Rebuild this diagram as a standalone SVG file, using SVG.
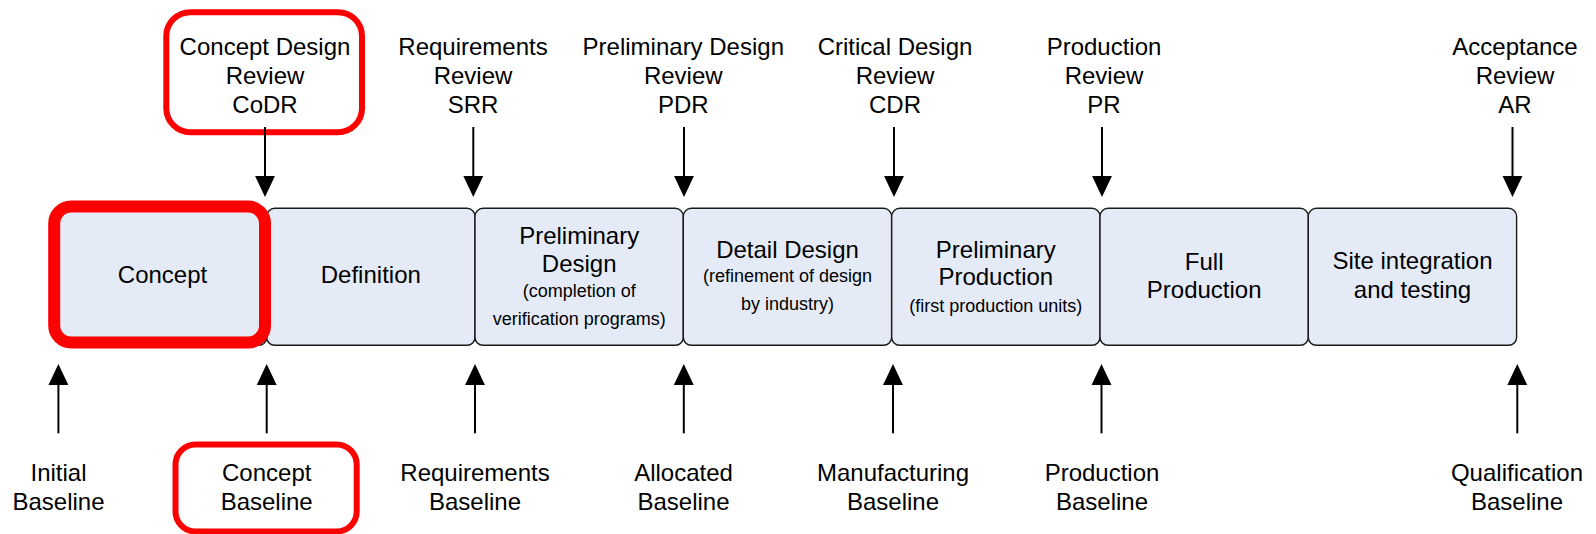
<svg xmlns="http://www.w3.org/2000/svg" width="1596" height="534" viewBox="0 0 1596 534">
<defs>
<marker id="ah" markerUnits="userSpaceOnUse" markerWidth="22" markerHeight="22" viewBox="0 -10 21 20" refX="0.5" refY="0" orient="auto">
<path d="M0,-9.5 L20,0 L0,9.5 Z" fill="#000"/>
</marker>
<style>
.phase{fill:#E5EBF6;stroke:#1a1a1a;stroke-width:1.4}
.hl{fill:none;stroke:#FF0000}
.t{font-family:"Liberation Sans",Arial,sans-serif;font-size:24px;fill:#000;text-anchor:middle}
.s{font-family:"Liberation Sans",Arial,sans-serif;font-size:18px;fill:#000;text-anchor:middle}
.c{stroke:#000;stroke-width:2;fill:none;marker-end:url(#ah)}
</style>
</defs>
<rect width="1596" height="534" fill="#fff"/>

<g id="phase-concept">
<rect class="phase" x="58.4" y="208.3" width="208.3" height="137" rx="8"/>
<text class="t" x="162.5" y="283.3">Concept</text>
</g>
<g id="phase-definition">
<rect class="phase" x="266.7" y="208.3" width="208.3" height="137" rx="8"/>
<text class="t" x="370.8" y="283.3">Definition</text>
</g>
<g id="phase-preliminary-design">
<rect class="phase" x="475" y="208.3" width="208.3" height="137" rx="8"/>
<text class="t" x="579.2" y="244">Preliminary</text>
<text class="t" x="579.2" y="271.7">Design</text>
<text class="s" x="579.2" y="296.7">(completion of</text>
<text class="s" x="579.2" y="325">verification programs)</text>
</g>
<g id="phase-detail-design">
<rect class="phase" x="683.3" y="208.3" width="208.3" height="137" rx="8"/>
<text class="t" x="787.5" y="258.3">Detail Design</text>
<text class="s" x="787.5" y="281.7">(refinement of design</text>
<text class="s" x="787.5" y="310">by industry)</text>
</g>
<g id="phase-preliminary-production">
<rect class="phase" x="891.7" y="208.3" width="208.3" height="137" rx="8"/>
<text class="t" x="995.8" y="258.3">Preliminary</text>
<text class="t" x="995.8" y="285">Production</text>
<text class="s" x="995.8" y="311.7">(first production units)</text>
</g>
<g id="phase-full-production">
<rect class="phase" x="1100" y="208.3" width="208.3" height="137" rx="8"/>
<text class="t" x="1204.2" y="270">Full</text>
<text class="t" x="1204.2" y="298.3">Production</text>
</g>
<g id="phase-site-integration">
<rect class="phase" x="1308.3" y="208.3" width="208.3" height="137" rx="8"/>
<text class="t" x="1412.5" y="269.3">Site integration</text>
<text class="t" x="1412.5" y="298.3">and testing</text>
</g>

<g id="highlights">
<rect class="hl" x="54.2" y="206.5" width="210.8" height="136" rx="17" stroke-width="12"/>
<rect class="hl" x="166.3" y="12.2" width="195.7" height="120" rx="24" stroke-width="6"/>
<rect class="hl" x="175.5" y="444.5" width="181.2" height="87" rx="20" stroke-width="6"/>
</g>

<g id="connectors">
<line class="c" x1="265" y1="127" x2="265" y2="176.5"/>
<line class="c" x1="473.3" y1="127" x2="473.3" y2="176.5"/>
<line class="c" x1="684" y1="127" x2="684" y2="176.5"/>
<line class="c" x1="894" y1="127" x2="894" y2="176.5"/>
<line class="c" x1="1102" y1="127" x2="1102" y2="176.5"/>
<line class="c" x1="1512.5" y1="127" x2="1512.5" y2="176.5"/>
<line class="c" x1="58.4" y1="433.3" x2="58.4" y2="384.5"/>
<line class="c" x1="266.7" y1="433.3" x2="266.7" y2="384.5"/>
<line class="c" x1="475" y1="433.3" x2="475" y2="384.5"/>
<line class="c" x1="683.8" y1="433.3" x2="683.8" y2="384.5"/>
<line class="c" x1="893" y1="433.3" x2="893" y2="384.5"/>
<line class="c" x1="1101.5" y1="433.3" x2="1101.5" y2="384.5"/>
<line class="c" x1="1517.3" y1="433.3" x2="1517.3" y2="384.5"/>
</g>

<g id="review-codr">
<text class="t" x="265" y="55">Concept Design</text>
<text class="t" x="265" y="84">Review</text>
<text class="t" x="265" y="113.3">CoDR</text>
</g>
<g id="review-srr">
<text class="t" x="473" y="55">Requirements</text>
<text class="t" x="473" y="84">Review</text>
<text class="t" x="473" y="113.3">SRR</text>
</g>
<g id="review-pdr">
<text class="t" x="683.3" y="55">Preliminary Design</text>
<text class="t" x="683.3" y="84">Review</text>
<text class="t" x="683.3" y="113.3">PDR</text>
</g>
<g id="review-cdr">
<text class="t" x="895" y="55">Critical Design</text>
<text class="t" x="895" y="84">Review</text>
<text class="t" x="895" y="113.3">CDR</text>
</g>
<g id="review-pr">
<text class="t" x="1104" y="55">Production</text>
<text class="t" x="1104" y="84">Review</text>
<text class="t" x="1104" y="113.3">PR</text>
</g>
<g id="review-ar">
<text class="t" x="1515" y="55">Acceptance</text>
<text class="t" x="1515" y="84">Review</text>
<text class="t" x="1515" y="113.3">AR</text>
</g>

<g id="baseline-initial">
<text class="t" x="58.5" y="481">Initial</text>
<text class="t" x="58.5" y="510">Baseline</text>
</g>
<g id="baseline-concept">
<text class="t" x="266.7" y="481">Concept</text>
<text class="t" x="266.7" y="510">Baseline</text>
</g>
<g id="baseline-requirements">
<text class="t" x="475" y="481">Requirements</text>
<text class="t" x="475" y="510">Baseline</text>
</g>
<g id="baseline-allocated">
<text class="t" x="683.5" y="481">Allocated</text>
<text class="t" x="683.5" y="510">Baseline</text>
</g>
<g id="baseline-manufacturing">
<text class="t" x="893" y="481">Manufacturing</text>
<text class="t" x="893" y="510">Baseline</text>
</g>
<g id="baseline-production">
<text class="t" x="1102" y="481">Production</text>
<text class="t" x="1102" y="510">Baseline</text>
</g>
<g id="baseline-qualification">
<text class="t" x="1517" y="481">Qualification</text>
<text class="t" x="1517" y="510">Baseline</text>
</g>
</svg>
